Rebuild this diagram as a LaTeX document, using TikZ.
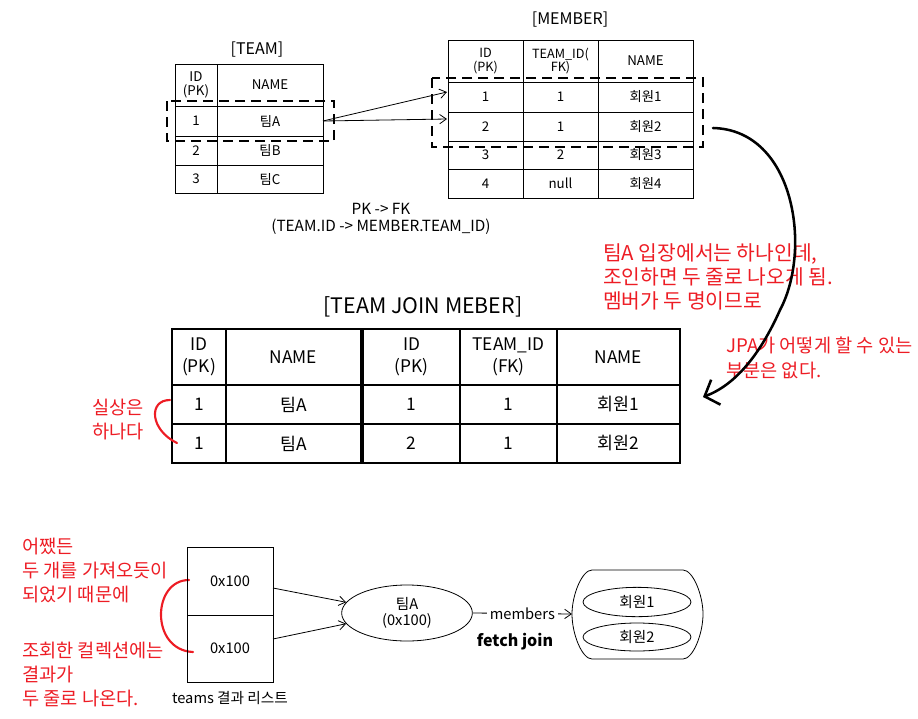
\documentclass[tikz,border=0pt]{standalone}
\usepackage{fontspec}
\setmainfont{Noto Sans CJK KR}
\usetikzlibrary{arrows.meta,shapes.geometric}
\definecolor{memored}{RGB}{237,28,36}
\tikzset{
  tline/.style={line width=0.6pt},
  jline/.style={line width=1pt},
  rowbox/.style={line width=2pt,dash pattern=on 7.5pt off 4.5pt},
  fk/.style={line width=0.6pt,-{Straight Barb[length=5pt,width=7pt]}},
  memo/.style={text=memored,font=\fontsize{14}{18}\selectfont,align=left,anchor=west,inner sep=0pt},
  stroke/.style={memored,line width=1.6pt,line cap=round},
  small/.style={font=\fontsize{10}{10.5}\selectfont,align=center},
  big/.style={font=\fontsize{13}{16}\selectfont,align=center},
  plain/.style={font=\fontsize{11}{12.5}\selectfont,align=center},
}
\begin{document}
\begin{tikzpicture}[x=0.75pt,y=-0.75pt]
        \useasboundingbox(0,0)rectangle(918,718);
        % 팀 테이블
        \node[font=\fontsize{12}{12}\selectfont](teamtitle)at(257,50){[TEAM]};
        \draw[tline](175,64)rectangle(323,193);
        \draw[tline](217,64)to(217,193);
        \foreach \y in {106,136,165}
        {
        \draw[tline](175,\y)to(323,\y);
        }
        \node[small](tid)at(196,85){ID\\(PK)};
        \node[small](tname)at(270,85){NAME};
        \foreach \y/\i/\n in {121/1/A,150.5/2/B,179/3/C}
        {
        \node[small](tid\i)at(196,\y){\i};
        \node[small](tname\i)at(270,\y){팀\n};
        }
        % 멤버 테이블
        \node[font=\fontsize{12}{12}\selectfont](membertitle)at(570,20){[MEMBER]};
        \draw[tline](448,40)rectangle(693,198);
        \foreach \x in {523,598}
        {
        \draw[tline](\x,40)to(\x,198);
        }
        \foreach \y in {82,112,141,169}
        {
        \draw[tline](448,\y)to(693,\y);
        }
        \node[small,font=\fontsize{9.5}{10}\selectfont](mid)at(485.5,61){ID\\(PK)};
        \node[small,font=\fontsize{9.5}{10}\selectfont](mteam)at(560.5,61){TEAM\_ID(\\FK)};
        \node[small](mname)at(645.5,61){NAME};
        \foreach \y/\i/\t in {97/1/1,126.5/2/1,155/3/2,183.5/4/null}
        {
        \node[small](mid\i)at(485.5,\y){\i};
        \node[small](mteam\i)at(560.5,\y){\t};
        \node[small](mname\i)at(645.5,\y){회원\i};
        }
        \draw[rowbox](167,101)rectangle(334,141);
        \draw[rowbox](432,78)rectangle(703,147);
        \coordinate(pk)at(323,121);
        \coordinate(fk1)at(447,92);
        \coordinate(fk2)at(447,119);
        \draw[fk](pk)to(fk1);
        \draw[fk](pk)to(fk2);
        \node[plain,font=\fontsize{11.5}{12.75}\selectfont](pkfk)at(381,219){PK -> FK\\(TEAM.ID -> MEMBER.TEAM\_ID)};
        % 조인 결과
        \node[font=\fontsize{16}{16}\selectfont](jointitle)at(423,307){[TEAM JOIN MEBER]};
        \draw[jline](172,329)rectangle(361,463);
        \draw[jline](363,329)rectangle(680,463);
        \foreach \x in {226,460,557}
        {
        \draw[jline](\x,329)to(\x,463);
        }
        \foreach \y in {385,424}
        {
        \draw[jline](172,\y)to(361,\y);
        \draw[jline](363,\y)to(680,\y);
        }
        \node[big](jid)at(199,357){ID\\(PK)};
        \node[big](jname)at(293.5,357){NAME};
        \node[big](jmid)at(411.5,357){ID\\(PK)};
        \node[big](jmteam)at(508.5,357){TEAM\_ID\\(FK)};
        \node[big](jmname)at(618.5,357){NAME};
        \foreach \y/\m in {404.5/1,443.5/2}
        {
        \node[big](jid\m)at(199,\y){1};
        \node[big](jname\m)at(293.5,\y){팀A};
        \node[big](jmid\m)at(411.5,\y){\m};
        \node[big](jmteam\m)at(508.5,\y){1};
        \node[big](jmname\m)at(618.5,\y){회원\m};
        }
        % 메모
        \node[memo,font=\fontsize{15.25}{18}\selectfont](memo1)at(603,277){팀A 입장에서는 하나인데,\\조인하면 두 줄로 나오게 됨.\\멤버가 두 명이므로};
        \node[memo,font=\fontsize{14}{18.75}\selectfont](memo2)at(726,357.5){JPA가 어떻게 할 수 있는\\부분은 없다.};
        \node[memo](memo3)at(92,419.5){실상은\\하나다};
        \node[memo](memo4)at(22,571){어쨌든\\두 개를 가져오듯이\\되었기 때문에};
        \node[memo](memo5)at(22,675){조회한 컬렉션에는\\결과가\\두 줄로 나온다.};
        \draw[stroke](170,400).. controls(148,400)and(150,430)..(177,443);
        \draw[stroke](189,580).. controls(152,580)and(150,650)..(193,652);
        % 결과 리스트
        \draw[tline](187,547)rectangle(273,682);
        \draw[tline](187,615)to(273,615);
        \node[plain](ref1)at(230,581){0x100};
        \node[plain](ref2)at(230,648){0x100};
        \node[plain](teams)at(230,698){teams 결과 리스트};
        \node[plain,draw,tline,ellipse,minimum width=98pt,minimum height=42pt,inner sep=0pt](teama)at(407,613){팀A\\(0x100)};
        \coordinate(r1)at(273,588);
        \coordinate(r2)at(273,639);
        \draw[fk](r1)to(teama.170);
        \draw[fk](r2)to(teama.190);
        \draw[tline](592,570)to(683,570).. controls(693,570)and(703,595)..(703,614)
          .. controls(703,634)and(693,659)..(683,659)to(592,659)
          .. controls(582,659)and(572,634)..(572,614)
          .. controls(572,595)and(582,570)..(592,570)--cycle;
        \coordinate(coll)at(572,614);
        \node[plain,draw,tline,ellipse,minimum width=81pt,minimum height=22pt,inner sep=0pt](mem1)at(637,602){회원1};
        \node[plain,draw,tline,ellipse,minimum width=81pt,minimum height=21pt,inner sep=0pt](mem2)at(637,637){회원2};
        \draw[fk](teama.east)to node[plain,fill=white,inner sep=2pt]{members}(coll);
        \node[plain,font=\fontsize{12}{12}\bfseries](fetch)at(515,642){fetch join};
        % 화살표
        \coordinate(from)at(713,128);
        \coordinate(into)at(703,397);
        \draw[line width=1.9pt,line cap=round,-{Straight Barb[length=9pt,width=20pt]}](from).. controls(795,130)and(812,250)..(780,310).. controls(760,355)and(735,385)..(into);
    \end{tikzpicture}
\end{document}
